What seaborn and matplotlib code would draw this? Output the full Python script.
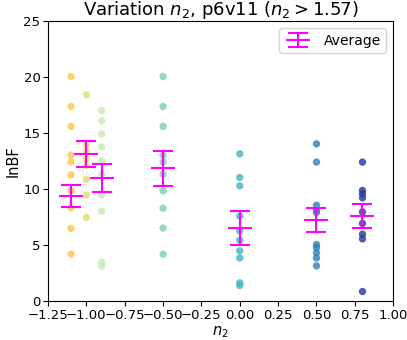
import pandas as pd
import matplotlib
matplotlib.use("Agg")
import matplotlib.pyplot as plt
import seaborn as sns

n2_values = [-1.1, -1.0, -0.9, -0.5, 0.0, 0.5, 0.8]
lnbf_m110 = [20.05, 17.37, 15.59, 13.02, 12.42, 11.26, 9.83, 8.33, 6.48, 4.17]
lnbf_m100 = [18.41, 14.0, 13.4, 12.7, 12.1, 10.88, 9.45, 7.45]
lnbf_m090 = [17.0, 16.09, 14.92, 13.76, 12.51, 11.35, 9.47, 8.02, 3.46, 3.10]
lnbf_m050 = [20.05, 17.37, 15.59, 13.02, 12.42, 11.32, 9.83, 8.28, 6.50, 4.17]
lnbf_p000 = [13.14, 11.03, 10.28, 7.57, 6.26, 5.42, 4.47, 3.84, 1.61, 1.38]
lnbf_p050 = [14.03, 12.40, 8.55, 8.10, 7.9, 5.04, 4.75, 4.29, 3.84, 3.13]
lnbf_p080 = [12.40, 9.87, 9.56, 9.20, 7.95, 6.92, 5.96, 5.54, 0.84]

# averages and their error bars
avg_values = [9.38, 13.11, 10.94, 11.86, 6.50, 7.24, 7.57]
avg_errors = [1.0, 1.15, 1.25, 1.55, 1.55, 1.1, 1.1]

colors = ["#fec44f", "#e3dc6e", "#c7e9b4", "#7fcdbb", "#41b6c4", "#2c7fb8", "#253494"]

groups = [lnbf_m110, lnbf_m100, lnbf_m090, lnbf_m050, lnbf_p000, lnbf_p050, lnbf_p080]
rows = []
for n2, vals in zip(n2_values, groups):
    for v in vals:
        rows.append({"n2": n2, "lnBF": v})
df = pd.DataFrame(rows)

sns.set_style("ticks", {"xtick.major.size": 3.5, "ytick.major.size": 3.5,
                        "axes.edgecolor": "black", "text.color": "black",
                        "axes.labelcolor": "black", "xtick.color": "black",
                        "ytick.color": "black"})
fig = plt.figure(figsize=(4.07, 3.4), dpi=100)
ax = fig.add_axes([0.118, 0.115, 0.848, 0.823])

sns.scatterplot(data=df, x="n2", y="lnBF", hue="n2", palette=dict(zip(n2_values, colors)),
                s=28, alpha=0.8, linewidth=0, legend=False, ax=ax)

ax.errorbar(n2_values, avg_values, yerr=avg_errors, fmt="_", color="#ff00ff",
            markersize=17, markeredgewidth=1.5, elinewidth=1.5, capsize=7,
            capthick=1.5, label="Average", zorder=5)

ax.set_xlim(-1.25, 1.0)
ax.set_ylim(0, 25)
ax.set_xticks([-1.25, -1.0, -0.75, -0.5, -0.25, 0.0, 0.25, 0.5, 0.75, 1.0])
ax.set_yticks([0, 5, 10, 15, 20, 25])
ax.tick_params(labelsize=9.5, pad=2)
ax.set_xlabel("$n_2$", fontsize=10.5, labelpad=2)
ax.set_ylabel("lnBF", fontsize=10.5, labelpad=2)
ax.set_title("Variation $n_2$, p6v11 ($n_2>1.57$)", fontsize=13, pad=3)
ax.legend(loc="upper right", fontsize=10)

fig.savefig("out.png", dpi=100)
